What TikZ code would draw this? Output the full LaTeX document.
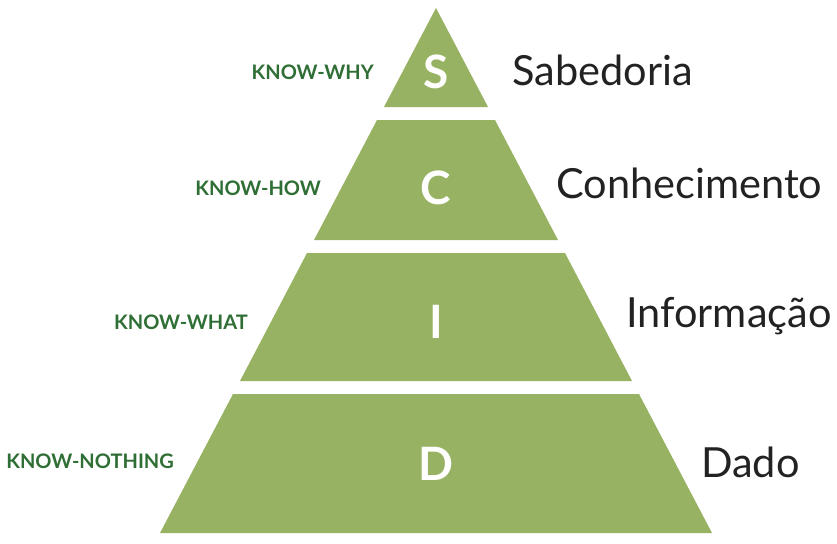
\documentclass[tikz,border=0pt]{standalone}
\usepackage{fontspec}
\setmainfont{Lato}
\definecolor{pyrgreen}{HTML}{97B262}
\definecolor{knowgreen}{HTML}{2F6E35}
\definecolor{labelgray}{HTML}{222222}
\tikzset{
  layer/.style={fill=pyrgreen, draw=none},
  letter/.style={text=white, inner sep=0pt, anchor=base,
    font=\bfseries\fontsize{46}{46}\selectfont},
  levelname/.style={text=labelgray, inner sep=0pt, anchor=base west,
    font=\fontsize{41.5}{41.5}\selectfont},
  knowname/.style={text=knowgreen, inner sep=0pt, anchor=base east,
    font=\bfseries\fontsize{20}{20}\selectfont},
}
\begin{document}
\begin{tikzpicture}[x=1pt, y=-1pt]
  \useasboundingbox (0,0) rectangle (837,543);
  % pyramid layers, separated by white gaps
  \fill[layer] (436,8) -- (488,107) -- (384,107) -- cycle;
  \fill[layer] (377,120) -- (495,120) -- (558,240) -- (314,240) -- cycle;
  \fill[layer] (307,253) -- (565,253) -- (632,381) -- (240,381) -- cycle;
  \fill[layer] (233,394) -- (639,394) -- (712,533) -- (160,533) -- cycle;
  % initials
  \node[letter] (s) at (436,88) {S};
  \node[letter] (c) at (436,204) {C};
  \node[letter] (i) at (436,338) {I};
  \node[letter] (d) at (436,480) {D};
  % level names
  \node[levelname] (sab) at (512,85) {Sabedoria};
  \node[levelname] (con) at (556,198) {Conhecimento};
  \node[levelname] (inf) at (626,327) {Informação};
  \node[levelname] (dad) at (701,477) {Dado};
  % kinds of knowing
  \node[knowname] (why) at (374,79) {KNOW-WHY};
  \node[knowname] (how) at (321,195) {KNOW-HOW};
  \node[knowname] (what) at (248,329) {KNOW-WHAT};
  \node[knowname] (nothing) at (174,468) {KNOW-NOTHING};
\end{tikzpicture}
\end{document}
